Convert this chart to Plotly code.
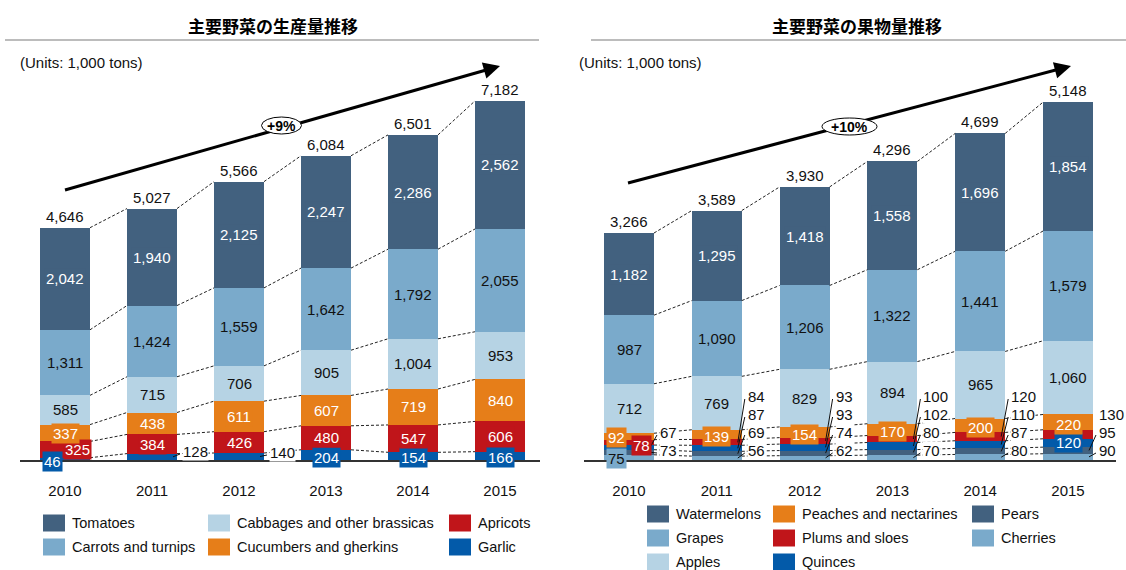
import plotly.graph_objects as go

W, H = 1126, 570
FONT = "Liberation Sans, Arial, sans-serif"
JP_FONT = "Noto Sans CJK JP, sans-serif"

years = ["2010", "2011", "2012", "2013", "2014", "2015"]

# 主要野菜の生産量 (1,000 tons), listed bottom to top of each stack
garlic = [46, 128, 140, 204, 154, 166]
apricots = [325, 384, 426, 480, 547, 606]
cucumbers = [337, 438, 611, 607, 719, 840]
cabbages = [585, 715, 706, 905, 1004, 953]
carrots = [1311, 1424, 1559, 1642, 1792, 2055]
tomatoes = [2042, 1940, 2125, 2247, 2286, 2562]
veg_totals = [4646, 5027, 5566, 6084, 6501, 7182]
veg_growth = "+9%"

# 主要野菜の果物量 (1,000 tons), listed bottom to top of each stack
cherries = [75, 56, 62, 70, 80, 90]
pears = [73, 69, 74, 80, 87, 95]
quinces = [67, 87, 93, 102, 110, 120]
plums = [78, 84, 93, 100, 120, 130]
peaches = [92, 139, 154, 170, 200, 220]
apples = [712, 769, 829, 894, 965, 1060]
grapes = [987, 1090, 1206, 1322, 1441, 1579]
watermelons = [1182, 1295, 1418, 1558, 1696, 1854]
fruit_totals = [3266, 3589, 3930, 4296, 4699, 5148]
fruit_growth = "+10%"

DARK = "#42617f"
MID = "#7aaacb"
LIGHT = "#b6d3e4"
ORANGE = "#e67e19"
RED = "#c0151a"
BLUE = "#035aa9"
WHITE = "#ffffff"
INK = "#111111"

BASE_PX, TOP_PX = 460, 60

panels = {
    "veg": dict(xa="x", ya="y", x0=20, x1=540, c0=65, step=87.0, bar=50, ppu=0.0500),
    "fruit": dict(xa="x2", ya="y2", x0=584, x1=1116, c0=629, step=87.8, bar=50, ppu=0.0695),
}

veg_series = [
    ("Garlic", garlic, BLUE, WHITE),
    ("Apricots", apricots, RED, WHITE),
    ("Cucumbers and gherkins", cucumbers, ORANGE, WHITE),
    ("Cabbages and other brassicas", cabbages, LIGHT, INK),
    ("Carrots and turnips", carrots, MID, INK),
    ("Tomatoes", tomatoes, DARK, WHITE),
]
fruit_series = [
    ("Cherries", cherries, MID, INK),
    ("Pears", pears, DARK, WHITE),
    ("Quinces", quinces, BLUE, WHITE),
    ("Plums and sloes", plums, RED, WHITE),
    ("Peaches and nectarines", peaches, ORANGE, WHITE),
    ("Apples", apples, LIGHT, INK),
    ("Grapes", grapes, MID, INK),
    ("Watermelons", watermelons, DARK, WHITE),
]


def fmt(v):
    return f"{v:,}"


def px_x(p):
    return p / W


def px_y(p):
    return 1 - p / H


fig = go.Figure()
annotations = []
shapes = []

# Rows (pixels above the baseline) used for labels set beside the bars
ROWS = [64, 46, 28, 10]

# Per-label placement: (series, year index) -> options
veg_special = {
    ("Garlic", 0): dict(xshift=-12.5, at_base=True, yshift=-1),
    ("Apricots", 0): dict(xshift=12, yshift=0),
    ("Garlic", 1): dict(outside=True, row=9),
    ("Garlic", 2): dict(outside=True, row=8),
    ("Garlic", 3): dict(at_base=True, yshift=3),
    ("Garlic", 4): dict(at_base=True, yshift=3),
    ("Garlic", 5): dict(at_base=True, yshift=3),
}
fruit_special = {
    ("Cherries", 0): dict(xshift=-12.5, at_base=True, yshift=2),
    ("Pears", 0): dict(outside=True, row=ROWS[3]),
    ("Quinces", 0): dict(outside=True, row=ROWS[2]),
    ("Plums and sloes", 0): dict(xshift=12.5, yshift=-3.5),
    ("Peaches and nectarines", 0): dict(xshift=-13, yshift=-1.5),
    ("Pears", 5): dict(outside=True, row=ROWS[2]),
    ("Cherries", 5): dict(outside=True, row=ROWS[3]),
    ("Plums and sloes", 5): dict(outside=True, row=ROWS[1], leader=False),
    ("Quinces", 5): dict(yshift=0),
}
for i in range(1, 5):
    fruit_special[("Plums and sloes", i)] = dict(outside=True, row=ROWS[0])
    fruit_special[("Quinces", i)] = dict(outside=True, row=ROWS[1])
    fruit_special[("Pears", i)] = dict(outside=True, row=ROWS[2])
    fruit_special[("Cherries", i)] = dict(outside=True, row=ROWS[3])
for i in range(1, 6):
    fruit_special[("Peaches and nectarines", i)] = dict(yshift=-2)


def build(panel_key, series, totals, special):
    p = panels[panel_key]
    xa, ya = p["xa"], p["ya"]
    w = p["bar"] / p["step"]
    n = len(years)
    xs = list(range(n))
    base = [0] * n
    bounds = []
    for name, vals, color, tcol in series:
        fig.add_trace(go.Bar(
            x=xs, y=vals, base=list(base), width=w, name=name,
            marker=dict(color=color, line=dict(width=0)),
            xaxis=xa, yaxis=ya, showlegend=False, hoverinfo="skip",
        ))
        for i, v in enumerate(vals):
            opt = special.get((name, i), {})
            mid = base[i] + v / 2
            if opt.get("outside"):
                annotations.append(dict(
                    x=i + w / 2, y=0, xref=xa, yref=ya,
                    xanchor="left", yanchor="middle",
                    xshift=5, yshift=opt["row"], text=fmt(v), showarrow=False,
                    font=dict(family=FONT, size=15, color=INK),
                    bgcolor=WHITE, borderpad=0,
                ))
                if opt.get("leader", True):
                    # short slanted leader from the segment to its label
                    ppu, step = p["ppu"], p["step"]
                    shapes.append(dict(
                        type="line", xref=xa, yref=ya,
                        x0=i + w / 2 - 4 / step, y0=mid,
                        x1=i + w / 2 + 3 / step, y1=(opt["row"] - 3) / ppu,
                        line=dict(color=INK, width=1), layer="above",
                    ))
            else:
                y = 0 if opt.get("at_base") else mid
                annotations.append(dict(
                    x=i, y=y, xref=xa, yref=ya,
                    xanchor="center", yanchor="middle",
                    xshift=opt.get("xshift", 0), yshift=opt.get("yshift", 0),
                    text=fmt(v), showarrow=False,
                    font=dict(family=FONT, size=15, color=tcol),
                    bgcolor=color, borderpad=1,
                ))
            base[i] += v
        bounds.append(list(base))

    # dashed connectors between neighbouring bars at each segment boundary
    cx, cy = [], []
    for b in bounds:
        for i in range(n - 1):
            cx += [i + w / 2, i + 1 - w / 2, None]
            cy += [b[i], b[i + 1], None]
    fig.add_trace(go.Scatter(
        x=cx, y=cy, mode="lines", xaxis=xa, yaxis=ya, showlegend=False,
        hoverinfo="skip", line=dict(color="#222222", width=1, dash="3px,2px"),
    ))

    for i, t in enumerate(totals):
        annotations.append(dict(
            x=i, y=base[i], xref=xa, yref=ya, xanchor="center", yanchor="bottom",
            yshift=1, text=fmt(t), showarrow=False,
            font=dict(family=FONT, size=15, color=INK),
        ))


build("veg", veg_series, veg_totals, veg_special)
build("fruit", fruit_series, fruit_totals, fruit_special)

# axes
for key, p in panels.items():
    xname = "xaxis" if p["xa"] == "x" else "xaxis2"
    yname = "yaxis" if p["ya"] == "y" else "yaxis2"
    fig.layout[xname] = dict(
        domain=[px_x(p["x0"]), px_x(p["x1"])],
        range=[(p["x0"] - p["c0"]) / p["step"], (p["x1"] - p["c0"]) / p["step"]],
        tickvals=list(range(len(years))), ticktext=years,
        tickfont=dict(family=FONT, size=15, color=INK),
        ticks="", ticklabelstandoff=16,
        showline=True, linecolor="#333333", linewidth=1.5,
        showgrid=False, zeroline=False, anchor=p["ya"], fixedrange=True,
    )
    fig.layout[yname] = dict(
        domain=[px_y(BASE_PX), px_y(TOP_PX)],
        range=[0, (BASE_PX - TOP_PX) / p["ppu"]],
        visible=False, anchor=p["xa"], fixedrange=True,
    )

# headings, rules and unit notes
for cx_px, title, r0, r1, ux in [
    (273, "主要野菜の生産量推移", 5, 539, 18),
    (857, "主要野菜の果物量推移", 591, 1126, 577),
]:
    annotations.append(dict(
        x=px_x(cx_px), y=px_y(25), xref="paper", yref="paper",
        xanchor="center", yanchor="middle",
        text=f"<b>{title}</b>", showarrow=False,
        font=dict(family=JP_FONT, size=17, color="#000000"),
    ))
    shapes.append(dict(
        type="line", xref="paper", yref="paper",
        x0=px_x(r0), x1=px_x(r1), y0=px_y(40), y1=px_y(40),
        line=dict(color="#a6a6a6", width=1.5),
    ))
    annotations.append(dict(
        x=px_x(ux), y=px_y(62), xref="paper", yref="paper",
        xanchor="left", yanchor="middle",
        text="(Units: 1,000 tons)", showarrow=False,
        font=dict(family=FONT, size=15, color=INK),
    ))

# growth arrows with the CAGR badge
for (tx, ty), (hx, hy), (ex, ey, ew, eh), label in [
    ((65, 190), (500, 66), (281.5, 125.5, 40, 17), veg_growth),
    ((628, 183), (1071, 66), (849.5, 126.5, 55, 17), fruit_growth),
]:
    dxp, dyp = hx - tx, hy - ty
    L = (dxp ** 2 + dyp ** 2) ** 0.5
    ux_, uy_ = dxp / L, dyp / L
    shapes.append(dict(
        type="line", xref="paper", yref="paper",
        x0=px_x(tx), y0=px_y(ty), x1=px_x(hx - ux_ * 8), y1=px_y(hy - uy_ * 8),
        line=dict(color="#000000", width=3), layer="above",
    ))
    annotations.append(dict(
        x=px_x(hx), y=px_y(hy), xref="paper", yref="paper",
        ax=-ux_ * 14, ay=-uy_ * 14, axref="pixel", ayref="pixel",
        text="", showarrow=True, arrowhead=2, arrowsize=1.1, arrowwidth=3,
        arrowcolor="#000000", standoff=0,
    ))
    shapes.append(dict(
        type="circle", xref="paper", yref="paper",
        x0=px_x(ex - ew / 2), x1=px_x(ex + ew / 2),
        y0=px_y(ey + eh / 2), y1=px_y(ey - eh / 2),
        fillcolor=WHITE, line=dict(color="#000000", width=1), layer="above",
    ))
    annotations.append(dict(
        x=px_x(ex), y=px_y(ey), xref="paper", yref="paper",
        xanchor="center", yanchor="middle",
        text=f"<b>{label}</b>", showarrow=False,
        font=dict(family=FONT, size=14, color="#000000"),
    ))

# legends
legend_items = [
    (43, 523, "Tomatoes", DARK), (43, 547, "Carrots and turnips", MID),
    (208, 523, "Cabbages and other brassicas", LIGHT), (208, 547, "Cucumbers and gherkins", ORANGE),
    (449, 523, "Apricots", RED), (449, 547, "Garlic", BLUE),
    (647, 514, "Watermelons", DARK), (647, 538, "Grapes", MID), (647, 562, "Apples", LIGHT),
    (773, 514, "Peaches and nectarines", ORANGE), (773, 538, "Plums and sloes", RED),
    (773, 562, "Quinces", BLUE),
    (972, 514, "Pears", DARK), (972, 538, "Cherries", MID),
]
for lx, ly, name, color in legend_items:
    shapes.append(dict(
        type="rect", xref="paper", yref="paper",
        x0=px_x(lx), x1=px_x(lx + 22), y0=px_y(ly + 8.5), y1=px_y(ly - 8.5),
        fillcolor=color, line=dict(width=0),
    ))
    annotations.append(dict(
        x=px_x(lx + 27), y=px_y(ly), xref="paper", yref="paper",
        xanchor="left", yanchor="middle",
        text=name, showarrow=False,
        font=dict(family=FONT, size=14.5, color=INK),
    ))

fig.update_layout(
    width=W, height=H, margin=dict(l=0, r=0, t=0, b=0),
    paper_bgcolor=WHITE, plot_bgcolor=WHITE,
    barmode="overlay", bargap=0,
    annotations=annotations, shapes=shapes,
    font=dict(family=FONT),
)

fig.write_html("out.html")
